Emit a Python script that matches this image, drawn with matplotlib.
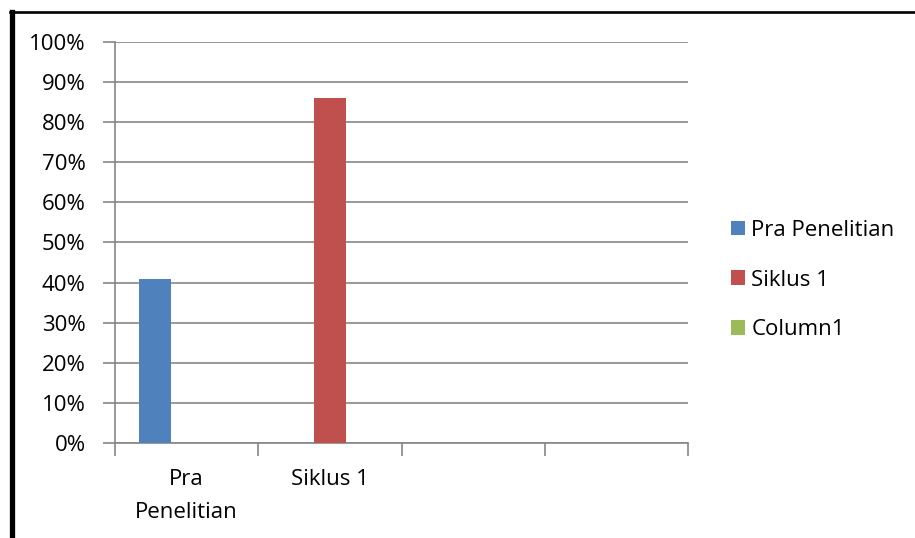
import numpy as np
import matplotlib.pyplot as plt
from matplotlib.lines import Line2D

plt.rcParams['font.family'] = ['Open Sans', 'DejaVu Sans']

# data (percent)
categories = ['Pra\nPenelitian', 'Siklus 1', '', '']
series_names = ['Pra Penelitian', 'Siklus 1', 'Column1']
pra_penelitian = [41, 0, 0, 0]
siklus_1 = [0, 86, 0, 0]
column1 = [0, 0, 0, 0]
yticks = [0, 10, 20, 30, 40, 50, 60, 70, 80, 90, 100]

colors = ['#4F81BD', '#C0504D', '#9BBB59']
fs = 16

fig = plt.figure(figsize=(9.15, 5.38), dpi=100)
ax = fig.add_axes([115/915, 95/538, 573/915, 401/538])

x = np.arange(len(categories))
w = 1 / 4.5
for i, (vals, name) in enumerate(zip([pra_penelitian, siklus_1, column1], series_names)):
    ax.bar(x + (i - 1) * w, vals, width=w, color=colors[i], label=name, zorder=3)

ax.set_xlim(-0.5, len(categories) - 0.5)
ax.set_ylim(0, 100)
ax.set_yticks(yticks)
ax.set_yticklabels([f'{t}%' for t in yticks])
ax.yaxis.grid(True, color='#868686', linewidth=1.2, zorder=0)

# category ticks sit on the boundaries, labels at centres
ax.set_xticks(np.arange(len(categories) + 1) - 0.5)
ax.set_xticklabels([])
ax.set_xticks(x, minor=True)
ax.set_xticklabels(categories, minor=True, fontsize=fs, linespacing=1.75)
ax.tick_params(axis='x', which='minor', length=0, pad=18.5)
ax.tick_params(axis='x', which='major', length=9, width=1.2, color='#868686')
ax.tick_params(axis='y', length=9, width=1.2, color='#868686', labelsize=fs, pad=12)

for s in ['top', 'right']:
    ax.spines[s].set_visible(False)
for s in ['left', 'bottom']:
    ax.spines[s].set_color('#868686')
    ax.spines[s].set_linewidth(1.2)

ax.legend(loc='center left', bbox_to_anchor=(731/915, 258/538),
          bbox_transform=fig.transFigure, frameon=False, fontsize=fs,
          handlelength=0.62, handleheight=0.62, handletextpad=0.3,
          labelspacing=1.3, borderaxespad=0, borderpad=0)

# black frame (left and top edges visible)
fig.add_artist(Line2D([12/915, 12/915], [0, 1 - 12/538], color='black',
                      linewidth=3.8, transform=fig.transFigure))
fig.add_artist(Line2D([10/915, 1], [1 - 12.3/538, 1 - 12.3/538], color='black',
                      linewidth=1.9, transform=fig.transFigure))

fig.savefig('out.png', dpi=100)
